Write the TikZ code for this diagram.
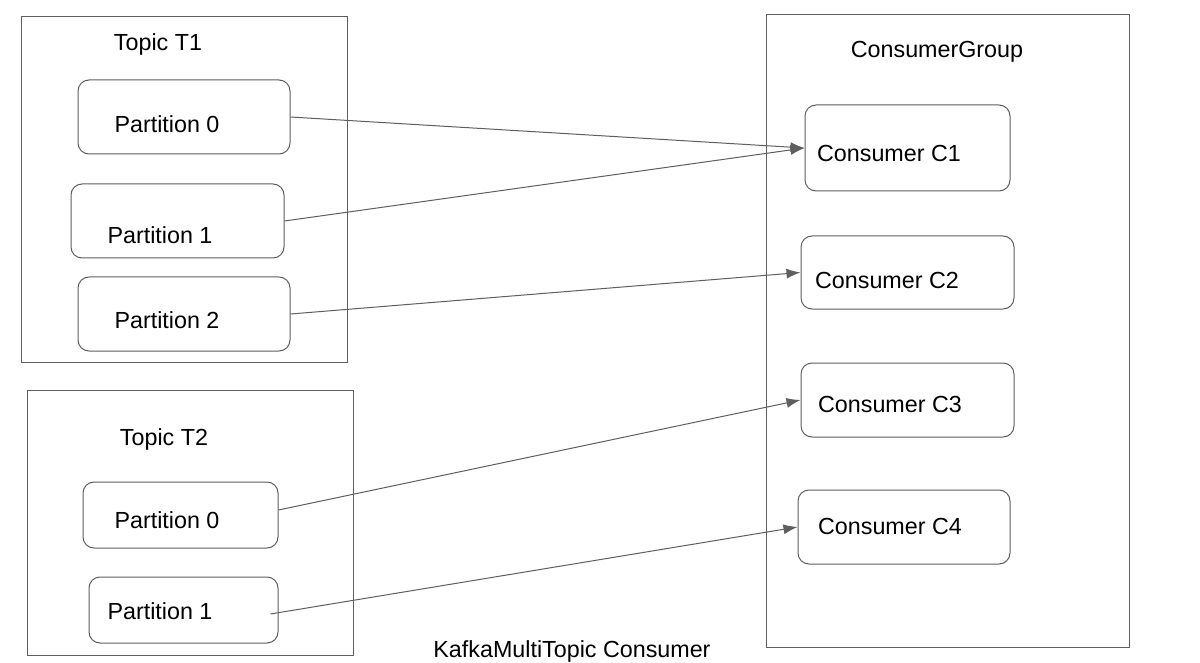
\documentclass[tikz,border=0pt]{standalone}
\usepackage{fontspec}
\setmainfont{Liberation Sans}
\usetikzlibrary{arrows.meta,calc}
\definecolor{linegray}{HTML}{5F5F5F}
\tikzset{
  outerbox/.style={draw=linegray, line width=1pt, inner sep=0pt},
  innerbox/.style={draw=linegray, line width=1pt, rounded corners=11pt, inner sep=0pt},
  lbl/.style={font=\fontsize{23.3}{28}\selectfont, inner sep=0pt, text=black},
  conn/.style={draw=linegray, line width=1pt, -{Latex[length=14pt,width=10pt]}}
}
\begin{document}
\begin{tikzpicture}[x=1pt,y=-1pt]
\useasboundingbox[fill=white] (0,0) rectangle (1200,663);
% outer containers
\node[outerbox, minimum width=326pt, minimum height=345pt] (t1) at (184,189.5) {};
\node[outerbox, minimum width=326pt, minimum height=265pt] (t2) at (190,522.5) {};
\node[outerbox, minimum width=363pt, minimum height=632pt] (cg) at (947.5,331) {};
% titles
\node[lbl] (t1lbl) at (158,44) {Topic T1};
\node[lbl] (t2lbl) at (164,439) {Topic T2};
\node[lbl] (cglbl) at (937,52) {ConsumerGroup};
\node[lbl] (title) at (572,651) {KafkaMultiTopic Consumer};
% partitions of T1
\node[innerbox, minimum width=212pt, minimum height=74pt] (a0) at (184,117) {};
\node[innerbox, minimum width=213pt, minimum height=74pt] (a1) at (177.5,221) {};
\node[innerbox, minimum width=212pt, minimum height=74pt] (a2) at (184,314) {};
\node[lbl] (a0t) at (167,124) {Partition 0};
\node[lbl] (a1t) at (160,235) {Partition 1};
\node[lbl] (a2t) at (167,320) {Partition 2};
% partitions of T2
\node[innerbox, minimum width=195pt, minimum height=66pt] (b0) at (180.5,515) {};
\node[innerbox, minimum width=189pt, minimum height=66pt] (b1) at (183.5,610) {};
\node[lbl] (b0t) at (167,520) {Partition 0};
\node[lbl] (b1t) at (160,611) {Partition 1};
% consumers
\node[innerbox, minimum width=205pt, minimum height=86pt] (c1) at (907.5,148) {};
\node[innerbox, minimum width=213pt, minimum height=73pt] (c2) at (907.5,272.5) {};
\node[innerbox, minimum width=213pt, minimum height=74pt] (c3) at (907.5,400) {};
\node[innerbox, minimum width=212pt, minimum height=74pt] (c4) at (904,527) {};
\node[lbl] (c1t) at (889,153) {Consumer C1};
\node[lbl] (c2t) at (887,280) {Consumer C2};
\node[lbl] (c3t) at (890,404) {Consumer C3};
\node[lbl] (c4t) at (890,526) {Consumer C4};
% connectors
\coordinate (b0s) at ($(b0.east)+(0,-5)$);
\coordinate (b1s) at ($(b1.east)+(-8,4)$);
\draw[conn] (a0.east) -- (c1.west);
\draw[conn] (a1.east) -- (c1.west);
\draw[conn] (a2.east) -- (c2.west);
\draw[conn] (b0s) -- (c3.west);
\draw[conn] (b1s) -- (c4.west);
\end{tikzpicture}
\end{document}
